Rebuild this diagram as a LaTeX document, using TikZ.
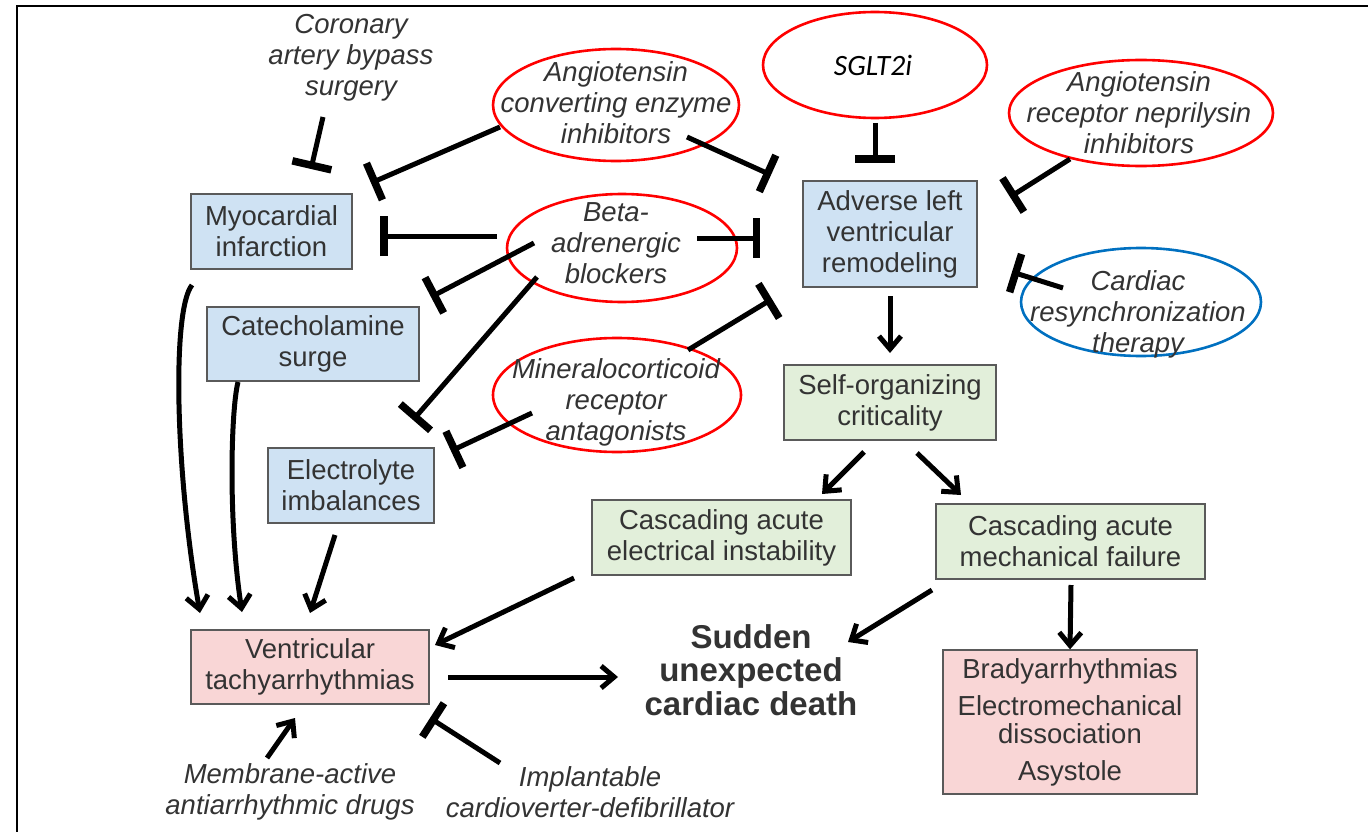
\documentclass[tikz,border=0pt]{standalone}
\usepackage{fontspec}
\setmainfont{Liberation Sans}
\newfontfamily\calibri{Carlito}
\usetikzlibrary{arrows.meta,shapes.geometric,calc}
\definecolor{txt}{HTML}{333333}
\definecolor{bluefill}{HTML}{CFE2F3}
\definecolor{greenfill}{HTML}{E2EFDA}
\definecolor{pinkfill}{HTML}{F9D6D6}
\definecolor{boxline}{HTML}{5A5A5A}
\definecolor{ellred}{HTML}{FF0000}
\definecolor{ellblue}{HTML}{0070C0}
\begin{document}
\begin{tikzpicture}[x=1pt,y=-1pt,
  box/.style={font=\fontsize{27.5}{31}\selectfont, text=txt, draw=boxline, line width=1.3pt, align=center, inner sep=0pt},
  bluebox/.style={box, fill=bluefill},
  greenbox/.style={box, fill=greenfill},
  pinkbox/.style={box, fill=pinkfill},
  drug/.style={font=\fontsize{27.5}{31}\selectfont\itshape, text=txt, align=center, inner sep=0pt},
  oval/.style={ellipse, draw=ellred, line width=2.6pt, inner sep=0pt},
  inh/.style={line width=5pt, -{Bar[width=40pt,line width=7.5pt]}},
  act/.style={line width=5pt, -{Straight Barb[length=13pt,width=22pt]}},
]
\useasboundingbox (0,0) rectangle (1368,832);
\draw[line width=2pt] (17,832) -- (17,6) -- (1368,6);

% boxes
\node[bluebox, minimum width=161pt, minimum height=75pt] (mi) at (271.5,231.5) {Myocardial\\infarction};
\node[bluebox, minimum width=212pt, minimum height=74pt] (cat) at (313,344) {Catecholamine\\surge};
\node[bluebox, minimum width=166pt, minimum height=75pt] (elec) at (351,485.5) {Electrolyte\\imbalances};
\node[bluebox, minimum width=174pt, minimum height=106pt] (adv) at (890,234) {Adverse left\\ventricular\\remodeling};
\node[greenbox, minimum width=212pt, minimum height=75pt] (soc) at (890,402.5) {Self-organizing\\criticality};
\node[greenbox, minimum width=259pt, minimum height=75pt] (caei) at (721.5,537.5) {Cascading acute\\electrical instability};
\node[greenbox, minimum width=269pt, minimum height=75pt] (camf) at (1070.5,541.5) {Cascading acute\\mechanical failure};
\node[pinkbox, minimum width=238pt, minimum height=74pt] (vt) at (310,667) {Ventricular\\tachyarrhythmias};
\node[pinkbox, minimum width=254pt, minimum height=144pt, font=\fontsize{27.5}{28}\selectfont] (brady) at (1070,722) {Bradyarrhythmias\\[9pt]Electromechanical\\dissociation\\[9pt]Asystole};

% ellipses and their texts
\node[oval, minimum width=246pt, minimum height=112pt] (ace) at (616,105) {};
\node[drug] (acet) at (616,102.5) {Angiotensin\\converting enzyme\\inhibitors};
\node[oval, minimum width=224pt, minimum height=106pt] (sglt) at (875,65) {};
\node[font=\calibri\itshape\fontsize{29.5}{31}\selectfont, text=black, inner sep=0pt] (sglt2t) at (873,65) {SGLT2i};
\node[oval, minimum width=264pt, minimum height=106pt] (arni) at (1141,113) {};
\node[drug] (arnit) at (1139,113) {Angiotensin\\receptor neprilysin\\inhibitors};
\node[oval, minimum width=230pt, minimum height=108pt] (beta) at (622,248) {};
\node[drug] (betat) at (616,243) {Beta-\\adrenergic\\blockers};
\node[oval, minimum width=248pt, minimum height=114pt] (mra) at (617,395) {};
\node[drug] (mrat) at (616,402) {Mineralocorticoid\\receptor\\antagonists};
\node[oval, draw=ellblue, minimum width=240pt, minimum height=108pt] (crt) at (1141,302) {};
\node[drug] (crtt) at (1138,314) {Cardiac\\resynchronization\\therapy};

% free texts
\node[drug] (cabg) at (351,58) {Coronary\\artery bypass\\surgery};
\node[drug] (memb) at (290,792) {Membrane-active\\antiarrhythmic drugs};
\node[drug] (icd) at (590,792) {Implantable\\cardioverter-defibrillator};
\node[font=\fontsize{33}{33.5}\selectfont\bfseries, text=txt, align=center, inner sep=0pt] (scd) at (751,670) {Sudden\\unexpected\\cardiac death};

% free ends
\coordinate (i1) at (311,169);
\coordinate (i2) at (371,183);
\coordinate (i3) at (771,175);
\coordinate (i4) at (380,236);
\coordinate (i5) at (760,238);
\coordinate (i6) at (431,297);
\coordinate (i7) at (413,420);
\coordinate (i8) at (772,299);
\coordinate (i9) at (451,451);
\coordinate (i10) at (875,163);
\coordinate (i11) at (1010,197);
\coordinate (i12) at (1012,272);
\coordinate (i13) at (430,718);

% inhibitions
\draw[inh] ($(cabg)+(-28,59)$) -- (i1);
\draw[inh] ($(ace)+(-116,22)$) -- (i2);
\draw[inh] ($(ace)+(71,32)$) -- (i3);
\draw[inh] ($(beta)+(-125,-12)$) -- (i4);
\draw[inh] ($(beta)+(75,-10)$) -- (i5);
\draw[inh] ($(beta)+(-88,-5)$) -- (i6);
\draw[inh] ($(beta)+(-85,29)$) -- (i7);
\draw[inh] ($(mra)+(71,-45)$) -- (i8);
\draw[inh] ($(mra)+(-85,18)$) -- (i9);
\draw[inh] ($(sglt)+(0,58)$) -- (i10);
\draw[inh] ($(arni)+(-71,46)$) -- (i11);
\draw[inh] ($(crt)+(-78,-14)$) -- (i12);
\draw[inh] ($(icd)+(-90,-29)$) -- (i13);

% activations
\coordinate (a1) at (200,613);
\coordinate (a2) at (242,612);
\coordinate (a3) at (310,613);
\coordinate (a4) at (890,353);
\coordinate (a5) at (822,494);
\coordinate (a6) at (961,495);
\coordinate (a7) at (435,645);
\coordinate (a8) at (848,642);
\coordinate (a10) at (618,677);
\coordinate (a11) at (295,718);
\draw[act] ($(mi)+(-79.5,53.5)$) .. controls (172,310) and (175,470) .. (a1);
\draw[act] ($(cat)+(-75,38)$) .. controls (231,410) and (228,520) .. (a2);
\draw[act] ($(elec)+(-16,49.5)$) -- (a3);
\draw[act] ($(adv)+(0,62)$) -- (a4);
\draw[act] ($(soc)+(-26,49.5)$) -- (a5);
\draw[act] ($(soc)+(27,50.5)$) -- (a6);
\draw[act] ($(caei)+(-147.5,40.5)$) -- (a7);
\draw[act] ($(camf)+(-138.5,48.5)$) -- (a8);
\draw[act] ($(camf)+(0.5,43.5)$) -- (brady.north);
\draw[act] ($(vt)+(138,10)$) -- (a10);
\draw[act] ($(memb)+(-23,-34)$) -- (a11);
\end{tikzpicture}
\end{document}
